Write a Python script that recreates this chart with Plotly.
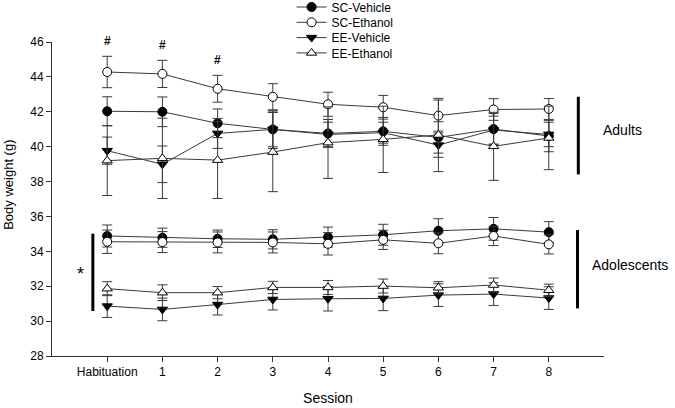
import plotly.graph_objects as go

sessions = ["Habituation", "1", "2", "3", "4", "5", "6", "7", "8"]
x_pos = list(range(len(sessions)))

# Adults
adult_sc_veh = [42.03, 42.00, 41.34, 40.99, 40.76, 40.88, 40.53, 41.01, 40.61]
adult_sc_veh_sem = [0.83, 0.85, 0.82, 1.10, 0.80, 0.80, 0.90, 0.90, 0.90]
adult_sc_eth = [44.28, 44.17, 43.32, 42.86, 42.43, 42.26, 41.78, 42.13, 42.16]
adult_sc_eth_sem = [0.90, 0.78, 0.77, 0.75, 0.69, 0.68, 0.89, 0.62, 0.60]
adult_ee_veh = [39.77, 38.99, 40.76, 40.99, 40.70, 40.80, 40.09, 40.95, 40.70]
adult_ee_veh_sem = [0.78, 1.05, 0.86, 1.00, 0.70, 0.60, 0.70, 0.80, 0.70]
adult_ee_eth = [39.20, 39.33, 39.23, 39.69, 40.23, 40.42, 40.67, 40.02, 40.50]
adult_ee_eth_sem = [2.00, 2.30, 2.20, 2.27, 2.05, 1.90, 2.10, 1.95, 1.82]

# Adolescents
adol_sc_veh = [34.88, 34.78, 34.72, 34.69, 34.82, 34.95, 35.18, 35.29, 35.10]
adol_sc_veh_sem = [0.63, 0.55, 0.50, 0.55, 0.57, 0.60, 0.69, 0.65, 0.60]
adol_sc_eth = [34.55, 34.53, 34.51, 34.51, 34.43, 34.66, 34.46, 34.88, 34.40]
adol_sc_eth_sem = [0.67, 0.60, 0.60, 0.60, 0.64, 0.55, 0.60, 0.55, 0.55]
adol_ee_veh = [30.86, 30.67, 30.95, 31.24, 31.28, 31.30, 31.49, 31.55, 31.32]
adol_ee_veh_sem = [0.65, 0.65, 0.60, 0.60, 0.70, 0.70, 0.65, 0.65, 0.65]
adol_ee_eth = [31.86, 31.63, 31.63, 31.93, 31.93, 32.01, 31.91, 32.07, 31.77]
adol_ee_eth_sem = [0.40, 0.45, 0.35, 0.35, 0.40, 0.40, 0.35, 0.40, 0.35]

sig_sessions = [0, 1, 2]  # '#' marks above SC-Ethanol adults

LINE = "#3a3a3a"
FONT = "Liberation Sans, Arial"
groups = [
    ("SC-Vehicle", "circle", "black", adult_sc_veh, adult_sc_veh_sem, adol_sc_veh, adol_sc_veh_sem),
    ("SC-Ethanol", "circle", "white", adult_sc_eth, adult_sc_eth_sem, adol_sc_eth, adol_sc_eth_sem),
    ("EE-Vehicle", "triangle-down", "black", adult_ee_veh, adult_ee_veh_sem, adol_ee_veh, adol_ee_veh_sem),
    ("EE-Ethanol", "triangle-up", "white", adult_ee_eth, adult_ee_eth_sem, adol_ee_eth, adol_ee_eth_sem),
]
legend_ids = ["legend", "legend2", "legend3", "legend4"]
legend_y = [1.1115, 1.0627, 1.014, 0.9653]

fig = go.Figure()
for gi, (name, sym, fill, ya, ea, yb, eb) in enumerate(groups):
    for k, (yy, ee) in enumerate([(ya, ea), (yb, eb)]):
        fig.add_trace(go.Scatter(
            x=x_pos, y=yy, mode="lines+markers", name=name,
            legendgroup=name, showlegend=(k == 0), legend=legend_ids[gi],
            line=dict(color=LINE, width=1),
            marker=dict(symbol=sym, size=9, color=fill,
                        line=dict(color="black", width=1)),
            error_y=dict(type="data", array=ee, color=LINE, thickness=1, width=5),
        ))

annotations = []
for s in sig_sessions:
    annotations.append(dict(x=s, y=adult_sc_eth[s] + adult_sc_eth_sem[s], xref="x", yref="y",
                            text="<b>#</b>", showarrow=False, yshift=15,
                            font=dict(size=12, color="black", family=FONT)))
annotations += [
    dict(x=1.033, y=40.95, xref="paper", yref="y", text="Adults", showarrow=False,
         xanchor="center", font=dict(size=14, color="black", family=FONT)),
    dict(x=1.048, y=33.21, xref="paper", yref="y", text="Adolescents", showarrow=False,
         xanchor="center", font=dict(size=14, color="black", family=FONT)),
    dict(x=-0.48, y=32.7, xref="x", yref="y", text="*", showarrow=False,
         font=dict(size=18, color="black", family=FONT)),
    dict(x=-0.078, y=0.545, xref="paper", yref="paper", text="Body weight (g)", textangle=-90,
         showarrow=False, xanchor="center", yanchor="middle",
         font=dict(size=13, color="black", family=FONT)),
]

shapes = [
    dict(type="line", x0=8.535, x1=8.535, y0=38.41, y1=42.86, xref="x", yref="y",
         line=dict(color="black", width=3)),
    dict(type="line", x0=8.52, x1=8.52, y0=30.73, y1=35.22, xref="x", yref="y",
         line=dict(color="black", width=3)),
    dict(type="line", x0=-0.26, x1=-0.26, y0=30.58, y1=35.01, xref="x", yref="y",
         line=dict(color="black", width=3)),
]

legend_layout = {}
for lid, ly in zip(legend_ids, legend_y):
    legend_layout[lid] = dict(x=0.434, y=ly, xanchor="left", yanchor="middle",
                              bgcolor="rgba(0,0,0,0)", font=dict(size=12, family=FONT),
                              itemwidth=30, tracegroupgap=0)

fig.update_layout(
    width=675, height=408,
    margin=dict(l=52, r=71, t=42, b=52, autoexpand=False),
    paper_bgcolor="white", plot_bgcolor="white",
    font=dict(family=FONT, size=12, color="black"),
    showlegend=True,
    annotations=annotations,
    shapes=shapes,
    **legend_layout,
)
fig.update_xaxes(range=[-1, 9], tickvals=x_pos, ticktext=sessions, ticks="outside",
                 ticklen=5, tickcolor="#333", showline=True, linecolor="#333", linewidth=1,
                 showgrid=False, zeroline=False, title=dict(text="Session", font=dict(size=14), standoff=14))
fig.update_yaxes(range=[28, 46], dtick=2, ticks="outside", ticklen=5, tickcolor="#333",
                 showline=True, linecolor="#333", linewidth=1, showgrid=False, zeroline=False)

fig.write_html("out.html", config={"displayModeBar": False},
               post_script="document.body.style.margin='0px';document.body.style.overflow='hidden';")
